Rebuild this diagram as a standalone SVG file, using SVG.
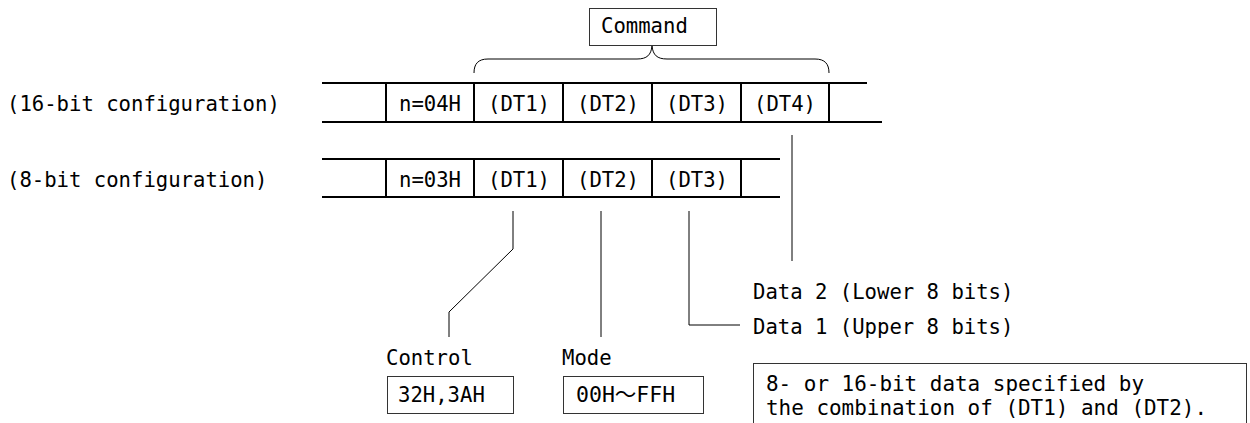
<svg xmlns="http://www.w3.org/2000/svg" width="1250" height="423" viewBox="0 0 1250 423">
<style>
text{font-family:"DejaVu Sans Mono","Liberation Mono","Noto Sans CJK JP",monospace;font-size:22px;fill:#000}
.c{text-anchor:middle}
.row{stroke:#000;stroke-width:2;fill:none}
.box{stroke:#333;stroke-width:1;fill:#fff}
.ld{stroke:#000;stroke-width:1;fill:none}
.note{font-size:22px}
</style>
<rect width="1250" height="423" fill="#fff"/>
<g id="command">
<rect class="box" x="589.5" y="8.5" width="127" height="37"/>
<text x="601" y="33" textLength="86.8" lengthAdjust="spacingAndGlyphs">Command</text>
</g>
<g id="label16">
<text x="7" y="111" textLength="272.8" lengthAdjust="spacingAndGlyphs">(16-bit configuration)</text>
</g>
<g id="label8">
<text x="7" y="187" textLength="260.4" lengthAdjust="spacingAndGlyphs">(8-bit configuration)</text>
</g>
<g id="row16">
<path class="row" d="M322,83 H867 M322,122 H882 M386,83 V122 M474,83 V122 M563,83 V122 M652,83 V122 M741,83 V122 M829,83 V122"/>
<text class="c" x="430" y="111" textLength="62" lengthAdjust="spacingAndGlyphs">n=04H</text>
<text class="c" x="519" y="111" textLength="62" lengthAdjust="spacingAndGlyphs">(DT1)</text>
<text class="c" x="608" y="111" textLength="62" lengthAdjust="spacingAndGlyphs">(DT2)</text>
<text class="c" x="697" y="111" textLength="62" lengthAdjust="spacingAndGlyphs">(DT3)</text>
<text class="c" x="785" y="111" textLength="62" lengthAdjust="spacingAndGlyphs">(DT4)</text>
</g>
<g id="row8">
<path class="row" d="M322,159 H780 M322,197 H780 M386,159 V197 M474,159 V197 M563,159 V197 M652,159 V197 M741,159 V197"/>
<text class="c" x="430" y="187" textLength="62" lengthAdjust="spacingAndGlyphs">n=03H</text>
<text class="c" x="519" y="187" textLength="62" lengthAdjust="spacingAndGlyphs">(DT1)</text>
<text class="c" x="608" y="187" textLength="62" lengthAdjust="spacingAndGlyphs">(DT2)</text>
<text class="c" x="697" y="187" textLength="62" lengthAdjust="spacingAndGlyphs">(DT3)</text>
</g>
<g id="control">
<text x="386" y="365" textLength="86.8" lengthAdjust="spacingAndGlyphs">Control</text>
<rect class="box" x="387.5" y="376.5" width="126" height="37"/>
<text x="398" y="402" textLength="86.8" lengthAdjust="spacingAndGlyphs">32H,3AH</text>
</g>
<g id="mode">
<text x="562" y="365" textLength="49.6" lengthAdjust="spacingAndGlyphs">Mode</text>
<rect class="box" x="563.5" y="376.5" width="140" height="37"/>
<text x="576" y="402" textLength="99.2" lengthAdjust="spacingAndGlyphs">00H～FFH</text>
</g>
<g id="data2">
<text x="753" y="299" textLength="260.4" lengthAdjust="spacingAndGlyphs">Data 2 (Lower 8 bits)</text>
</g>
<g id="data1">
<text x="753" y="334" textLength="260.4" lengthAdjust="spacingAndGlyphs">Data 1 (Upper 8 bits)</text>
</g>
<g id="note">
<rect class="box" x="753.5" y="363.5" width="493" height="70"/>
<text class="note" x="766" y="391" textLength="378" lengthAdjust="spacingAndGlyphs">8- or 16-bit data specified by</text>
<text class="note" x="766" y="415" textLength="441" lengthAdjust="spacingAndGlyphs">the combination of (DT1) and (DT2).</text>
</g>
<g id="connectors">
<path class="ld" d="M474,73 C474,64 478,59 488,59 L637,59 C647,59 651,55 652,46 C653,55 657,59 667,59 L815,59 C825,59 829,64 829,73"/>
<path class="ld" d="M513,211 V249 L449,312 V337"/>
<path class="ld" d="M601,211 V337"/>
<path class="ld" d="M689,211 V325 H740"/>
<path class="ld" d="M792,135 V261"/>
</g>
</svg>
